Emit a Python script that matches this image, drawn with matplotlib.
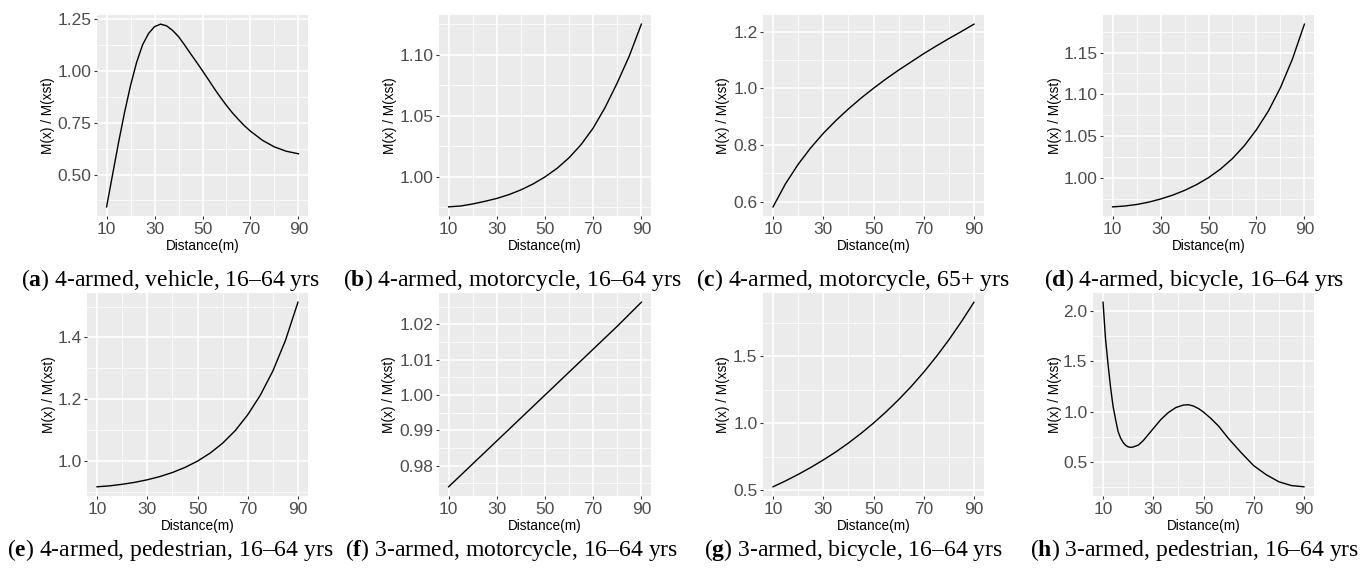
import matplotlib
matplotlib.use("Agg")
import matplotlib.pyplot as plt

plt.rcParams['font.family'] = ['Liberation Sans', 'DejaVu Sans']
plt.rcParams['mathtext.fontset'] = 'custom'
plt.rcParams['mathtext.rm'] = 'Liberation Serif'
plt.rcParams['mathtext.bf'] = 'Liberation Serif:bold'

# distances (m)
dist = [10, 15, 20, 25, 30, 35, 40, 45, 50, 55, 60, 65, 70, 75, 80, 85, 90]
dist_a = [10, 12.5, 15, 17.5, 20, 22.5, 25, 27.5, 30, 32.5, 35, 37.5, 40, 42.5,
          45, 47.5, 50, 52.5, 55, 57.5, 60, 62.5, 65, 67.5, 70, 75, 80, 85, 90]
dist_f = [10, 20, 30, 40, 50, 60, 70, 80, 90]
dist_h = [10, 11, 12, 13, 14, 15, 16, 17, 18, 19, 20, 21, 22, 24, 26, 28, 30, 33,
          36, 39, 42, 44, 46, 48, 50, 53, 56, 60, 65, 70, 75, 80, 85, 90]

# M(x) / M(xst) for each panel
ratio_a = [0.344, 0.50, 0.655, 0.80, 0.93, 1.04, 1.125, 1.18, 1.213, 1.225, 1.217,
           1.195, 1.165, 1.125, 1.083, 1.042, 1.00, 0.957, 0.913, 0.872, 0.833,
           0.797, 0.765, 0.735, 0.709, 0.665, 0.633, 0.612, 0.60]
ratio_b = [0.9755, 0.9762, 0.9779, 0.9800, 0.9824, 0.9855, 0.9894, 0.9942, 1.0,
           1.0070, 1.0157, 1.0265, 1.0400, 1.0570, 1.0770, 1.0990, 1.1250]
ratio_c = [0.582, 0.664, 0.732, 0.790, 0.841, 0.886, 0.927, 0.965, 1.0,
           1.033, 1.064, 1.093, 1.122, 1.149, 1.175, 1.200, 1.226]
ratio_d = [0.965, 0.966, 0.9678, 0.9706, 0.9744, 0.9790, 0.9847, 0.9916, 1.0,
           1.0103, 1.0229, 1.0385, 1.0575, 1.0800, 1.1079, 1.1421, 1.1840]
ratio_e = [0.917, 0.920, 0.9250, 0.9313, 0.9396, 0.9500, 0.9631, 0.9795, 1.0,
           1.0257, 1.0579, 1.0985, 1.1500, 1.2130, 1.2915, 1.3900, 1.5140]
ratio_f = [0.9740, 0.9805, 0.9870, 0.9935, 1.0000, 1.0065, 1.0130, 1.0195, 1.0263]
ratio_g = [0.525, 0.569, 0.617, 0.669, 0.725, 0.785, 0.851, 0.923, 1.0,
           1.084, 1.175, 1.273, 1.380, 1.496, 1.621, 1.757, 1.902]
ratio_h = [2.09, 1.72, 1.47, 1.24, 1.05, 0.92, 0.80, 0.735, 0.692, 0.663, 0.648,
           0.643, 0.647, 0.665, 0.71, 0.77, 0.83, 0.92, 0.99, 1.04, 1.065, 1.068,
           1.055, 1.03, 0.995, 0.93, 0.855, 0.73, 0.59, 0.46, 0.37, 0.30, 0.262, 0.25]

yticks_a = [0.50, 0.75, 1.00, 1.25]
yticks_b = [1.00, 1.05, 1.10]
yticks_c = [0.6, 0.8, 1.0, 1.2]
yticks_d = [1.00, 1.05, 1.10, 1.15]
yticks_e = [1.0, 1.2, 1.4]
yticks_f = [0.98, 0.99, 1.00, 1.01, 1.02]
yticks_g = [0.5, 1.0, 1.5]
yticks_h = [0.5, 1.0, 1.5, 2.0]
xticks = [10, 30, 50, 70, 90]

captions = [
    ("a", "4-armed, vehicle, 16\u201364 yrs"),
    ("b", "4-armed, motorcycle, 16\u201364 yrs"),
    ("c", "4-armed, motorcycle, 65+ yrs"),
    ("d", "4-armed, bicycle, 16\u201364 yrs"),
    ("e", "4-armed, pedestrian, 16\u201364 yrs"),
    ("f", "3-armed, motorcycle, 16\u201364 yrs"),
    ("g", "3-armed, bicycle, 16\u201364 yrs"),
    ("h", "3-armed, pedestrian, 16\u201364 yrs"),
]

panels = [
    (dist_a, ratio_a, yticks_a, 2),
    (dist, ratio_b, yticks_b, 2),
    (dist, ratio_c, yticks_c, 1),
    (dist, ratio_d, yticks_d, 2),
    (dist, ratio_e, yticks_e, 1),
    (dist_f, ratio_f, yticks_f, 2),
    (dist, ratio_g, yticks_g, 1),
    (dist_h, ratio_h, yticks_h, 1),
]

W, H = 1365, 569
# plot-area boxes in pixels: left, right, top, bottom
boxes = [
    (97, 308, 15, 216), (439, 651, 15, 216), (763, 984, 15, 216), (1103, 1314, 15, 216),
    (87, 308, 293, 496), (439, 651, 293, 496), (763, 984, 293, 496), (1093, 1314, 293, 496),
]
# x centre of the y-axis titles, pixels
ylab_x = [48, 390, 723, 1055, 49, 389, 723, 1055]

fig = plt.figure(figsize=(W / 100, H / 100), dpi=100)

for i, ((xs, ys, yt, dec), (l, r, t, b)) in enumerate(zip(panels, boxes)):
    ax = fig.add_axes([l / W, 1 - b / H, (r - l) / W, (b - t) / H])
    ax.set_facecolor("#EBEBEB")
    ax.plot(xs, ys, color="black", lw=1.0, zorder=3)
    ax.margins(x=0.05, y=0.05)
    ax.set_xticks(xticks)
    ax.set_xticklabels([str(v) for v in xticks])
    ax.set_yticks(yt)
    ax.set_yticklabels([f"{v:.{dec}f}" for v in yt])
    lo, hi = ax.get_ylim()
    step = yt[1] - yt[0]
    ymin = [yt[0] - step / 2] + [v + step / 2 for v in yt]
    ymin = [v for v in ymin if lo < v < hi]
    ax.set_yticks(ymin, minor=True)
    ax.set_xticks([20, 40, 60, 80], minor=True)
    ax.set_ylim(lo, hi)
    ax.set_xlim(6, 94)
    ax.grid(which="major", color="white", lw=1.1)
    ax.grid(which="minor", color="white", lw=0.55)
    ax.set_axisbelow(True)
    for s in ax.spines.values():
        s.set_visible(False)
    ax.tick_params(which="major", length=2.5, width=0.8, color="#333333",
                   labelsize=12.5, labelcolor="#4D4D4D", pad=1.5)
    ax.tick_params(which="minor", length=0)
    ax.set_xlabel("Distance(m)", fontsize=9.8, va="center")
    ax.xaxis.set_label_coords(0.5, -0.148)
    ax.set_ylabel("M(x) / M(xst)", fontsize=9.8, va="center")
    ax.yaxis.set_label_coords((ylab_x[i] - l) / (r - l), 0.5)

    letter, text = captions[i]
    cx = 0.125 + 0.25 * (i % 4)
    cy = 0.4979 if i < 4 else 0.0228
    fig.text(cx, cy, r"($\mathbf{" + letter + r"}$) " + text, ha="center",
             va="baseline", fontsize=17, family="Liberation Serif")

fig.savefig("out.png", dpi=100)
